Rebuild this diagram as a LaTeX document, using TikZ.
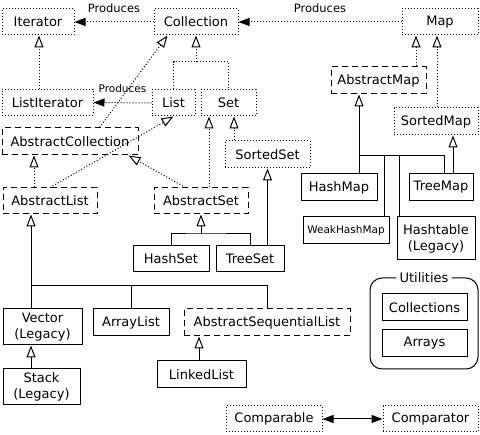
\documentclass[tikz,border=0pt]{standalone}
\usepackage{fontspec}
\setmainfont{DejaVu Sans}
\usetikzlibrary{arrows.meta,calc}
\begin{document}
\begin{tikzpicture}[x=1pt,y=-1pt,
  base/.style={draw, line width=1pt, inner sep=0pt, align=center, font=\fontsize{13}{16}\selectfont},
  iface/.style={base, dash pattern=on 1pt off 2pt},
  abstr/.style={base, dash pattern=on 6pt off 4pt},
  concrete/.style={base},
  gen/.style={line width=1pt, -{Triangle[length=12pt,width=9pt,fill=white]}},
  igen/.style={gen, dash pattern=on 1pt off 2pt},
  solidgen/.style={gen},
  iline/.style={line width=1pt, dash pattern=on 1pt off 2pt},
  sline/.style={line width=1pt},
  produces/.style={line width=1pt, dash pattern=on 1pt off 2pt, -{Triangle[length=11pt,width=8pt]}},
  lbl/.style={font=\fontsize{11.5}{13}\selectfont, inner sep=0pt},
  smalllbl/.style={font=\fontsize{10.5}{12}\selectfont, inner sep=0pt},
]
\useasboundingbox (0,0) rectangle (480,435);

% nodes
\node[iface, minimum width=72, minimum height=26] (iter) at (38,22) {Iterator};
\node[iface, minimum width=84, minimum height=26] (coll) at (196,22) {Collection};
\node[iface, minimum width=76, minimum height=26] (map) at (440,22) {Map};
\node[iface, minimum width=91, minimum height=26] (lit) at (47.5,102.5) {ListIterator};
\node[iface, minimum width=43, minimum height=26] (list) at (173.5,103) {List};
\node[iface, minimum width=55, minimum height=26] (set) at (228.5,103) {Set};
\node[abstr, minimum width=95, minimum height=27] (amap) at (378.5,80.5) {AbstractMap};
\node[iface, minimum width=84, minimum height=27] (smap) at (436,121.5) {SortedMap};
\node[abstr, minimum width=136, minimum height=27] (acoll) at (70,141.5) {AbstractCollection};
\node[iface, minimum width=85, minimum height=27] (sset) at (267.5,154.5) {SortedSet};
\node[concrete, minimum width=76, minimum height=27] (hmap) at (339,187.5) {HashMap};
\node[concrete, minimum width=64, minimum height=27] (tmap) at (441,187.5) {TreeMap};
\node[abstr, minimum width=94, minimum height=26] (alist) at (50,201) {AbstractList};
\node[abstr, minimum width=94, minimum height=26] (aset) at (201,201) {AbstractSet};
\node[concrete, minimum width=86, minimum height=27, font=\fontsize{10.5}{12}\selectfont] (whmap) at (346,230.5) {WeakHashMap};
\node[concrete, minimum width=78, minimum height=43] (htable) at (436,238.5) {Hashtable\\(Legacy)};
\node[concrete, minimum width=76, minimum height=26] (hset) at (171,259) {HashSet};
\node[concrete, minimum width=68, minimum height=26] (tset) at (250,259) {TreeSet};
\node[concrete, minimum width=79, minimum height=36] (vector) at (42.5,327) {Vector\\(Legacy)};
\node[concrete, minimum width=76, minimum height=27] (alst) at (131,322.5) {ArrayList};
\node[abstr, minimum width=166, minimum height=27] (aseq) at (267,322.5) {AbstractSequentialList};
\node[concrete, minimum width=89, minimum height=27] (llist) at (201.5,374.5) {LinkedList};
\node[concrete, minimum width=77, minimum height=36] (stack) at (41.5,387) {Stack\\(Legacy)};
\node[iface, minimum width=96, minimum height=26] (cmpble) at (274,419) {Comparable};
\node[iface, minimum width=95, minimum height=26] (cmptor) at (430.5,419) {Comparator};

\node[draw, line width=1pt, rounded corners=12pt, minimum width=108, minimum height=91, inner sep=0pt] (util) at (424,323.5) {};
\node[fill=white, inner xsep=4pt, inner ysep=1pt, font=\fontsize{13}{16}\selectfont] (utillbl) at (util.north) {Utilities};
\node[concrete, minimum width=85, minimum height=27] (colls) at (424.5,307.5) {Collections};
\node[concrete, minimum width=85, minimum height=27] (arrays) at (424.5,343.5) {Arrays};

% produces
\draw[produces] (coll.west) -- (iter.east) node[lbl, midway, above=9pt] {Produces};
\draw[produces] (map.west) -- (coll.east) node[lbl, midway, above=9pt] {Produces};
\draw[produces] (list.west) -- (lit.east) node[smalllbl, midway, above=10pt] {Produces};

% collection hierarchy
\draw[igen] (lit.north -| 39,0) -- (iter.south -| 39,0);
\coordinate (csplit) at (196,62);
\draw[iline] (list.north) |- (csplit) -| (set.north);
\draw[igen] (csplit) -- (coll.south);
\draw[igen] ($(acoll.north west)+(98,0)$) -- ($(coll.south west)+(14,0)$);
\draw[igen] (alist.north) -- (list.south);
\draw[igen] (alist.north -| 34,0) -- (acoll.south -| 34,0);
\draw[igen] ($(aset.north west)+(32,0)$) -- ($(acoll.south east)+(-10,0)$);
\draw[igen] (aset.north -| 209,0) -- (set.south -| 209,0);
\draw[igen] (sset.north -| 234,0) -- (set.south -| 234,0);
\draw[solidgen] (tset.north -| sset.south) -- (sset.south);
\coordinate (assplit) at (201,234);
\draw[sline] (hset.north) |- (assplit) -| (tset.north);
\draw[solidgen] (assplit) -- (aset.south);

% map hierarchy
\draw[igen] (amap.north -| 416,0) -- (map.south -| 416,0);
\draw[igen] (smap.north -| 437,0) -- (map.south -| 437,0);
\coordinate (amsplit) at (359,156);
\coordinate (amend) at (444,156);
\draw[solidgen] (amsplit) -- (amap.south -| amsplit);
\draw[sline] (hmap.north -| amsplit) -- (amsplit) -- (amend) -- (tmap.north -| amend);
\draw[sline] (whmap.north -| 384,0) -- (amsplit -| 384,0);
\draw[sline] (htable.north -| 399,0) -- (amsplit -| 399,0);
\draw[solidgen] (tmap.north -| 453,0) -- (smap.south -| 453,0);

% list implementations
\coordinate (alsplit) at (31,286);
\draw[solidgen] (vector.north -| alsplit) -- (alist.south -| alsplit);
\draw[sline] (vector.north -| alsplit) -- (alsplit) -| (aseq.north);
\draw[sline] (alst.north) -- (alst.north |- alsplit);
\draw[solidgen] (stack.north -| alsplit) -- (vector.south -| alsplit);
\draw[solidgen] (llist.north -| 199,0) -- (aseq.south -| 199,0);

% comparable
\draw[line width=1pt, {Triangle[length=11pt,width=8pt]}-{Triangle[length=11pt,width=8pt]}] (cmpble.east) -- (cmptor.west);
\end{tikzpicture}
\end{document}
